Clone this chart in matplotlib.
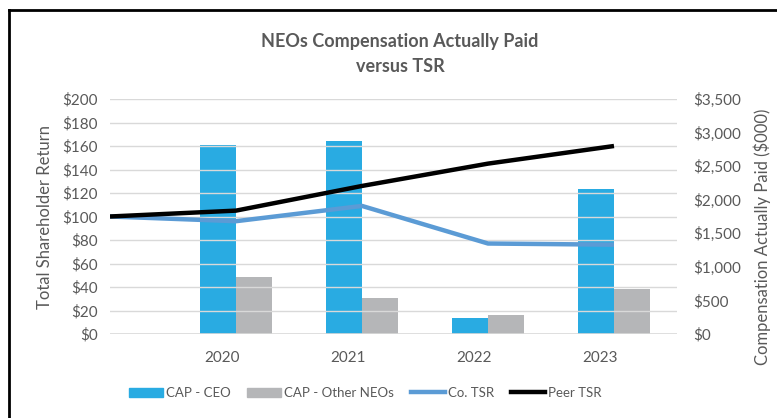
import matplotlib
matplotlib.use("Agg")
import matplotlib.pyplot as plt
from matplotlib.lines import Line2D
from matplotlib.patches import Patch
from matplotlib.ticker import FuncFormatter

years = ["2020", "2021", "2022", "2023"]
tsr_points = ["2019", "2020", "2021", "2022", "2023"]
cap_ceo = [2815, 2880, 245, 2165]
cap_other = [855, 535, 280, 675]
co_tsr = [100, 96, 109, 77, 76]
peer_tsr = [100, 105, 126, 145, 160]

plt.rcParams['font.family'] = ['Lato', 'DejaVu Sans']
TXT = '#595959'
C_CEO = '#29ABE2'
C_OTH = '#B5B6B8'
C_CO = '#5B9BD5'
C_PEER = '#000000'

fig = plt.figure(figsize=(7.77, 4.18), dpi=100)
W, H = 777, 418
ax = fig.add_axes([110 / W, 1 - 334 / H, 567 / W, 235 / H])
ax2 = ax.twinx()

bw = 0.285
xs = [i + 1 for i in range(len(years))]
ax2.bar([x - bw / 2 for x in xs], cap_ceo, width=bw, color=C_CEO, zorder=2)
ax2.bar([x + bw / 2 for x in xs], cap_other, width=bw, color=C_OTH, zorder=2)

ax.set_zorder(ax2.get_zorder() + 1)
ax.patch.set_visible(False)
lx = list(range(len(tsr_points)))
ax.plot(lx, co_tsr, color=C_CO, lw=3.2, solid_capstyle='butt', zorder=3)
ax.plot(lx, peer_tsr, color=C_PEER, lw=3.2, solid_capstyle='butt', zorder=4)

ax.set_xlim(0, 4.5)
ax.set_ylim(0, 200)
ax2.set_ylim(0, 3500)
ax.set_yticks(range(0, 201, 20))
ax2.set_yticks(range(0, 3501, 500))
ax.yaxis.set_major_formatter(FuncFormatter(lambda v, p: f"${int(v)}"))
ax2.yaxis.set_major_formatter(FuncFormatter(lambda v, p: f"${int(v):,}"))
ax.set_xticks([x - 0.11 for x in xs])
ax.set_xticklabels(years)

ax2.grid(False)
for v in range(20, 201, 20):
    ax.axhline(v, color='#D9D9D9', lw=1, zorder=0)
ax.axhline(0, color='#D9D9D9', lw=1.2, zorder=1)

for a in (ax, ax2):
    for s in a.spines.values():
        s.set_visible(False)
    a.tick_params(length=0, labelsize=11, labelcolor=TXT)
ax.tick_params(axis='y', pad=9)
ax2.tick_params(axis='y', pad=12)
ax.tick_params(axis='x', pad=12)

fig.text(45 / W, 1 - 217 / H, "Total Shareholder Return", rotation=90,
         ha='center', va='center', fontsize=12, color=TXT)
fig.text(762 / W, 1 - 237 / H, "Compensation Actually Paid ($000)", rotation=90,
         ha='center', va='center', fontsize=12, color=TXT)
fig.text(400 / W, 1 - 54 / H, "NEOs Compensation Actually Paid\nversus TSR",
         ha='center', va='center', fontsize=13, fontweight='bold', color=TXT,
         linespacing=1.5)

handles = [Patch(color=C_CEO), Patch(color=C_OTH),
           Line2D([], [], color=C_CO, lw=3.2), Line2D([], [], color=C_PEER, lw=3.2)]
labels = ["CAP - CEO", "CAP - Other NEOs", "Co. TSR", "Peer TSR"]
leg = fig.legend(handles, labels, loc='center', bbox_to_anchor=(365 / W, 1 - 393 / H),
                 ncol=4, frameon=False, fontsize=9.5, handlelength=2.6,
                 handleheight=0.7, handletextpad=0.22, columnspacing=1.25)
for t in leg.get_texts():
    t.set_color(TXT)

fig.add_artist(Line2D([9 / W, 9 / W], [0, 1 - 10 / H], color='black', lw=2,
                      transform=fig.transFigure))
fig.add_artist(Line2D([9 / W, 1], [1 - 10 / H, 1 - 10 / H], color='black', lw=2,
                      transform=fig.transFigure))

fig.savefig("out.png", dpi=100)
